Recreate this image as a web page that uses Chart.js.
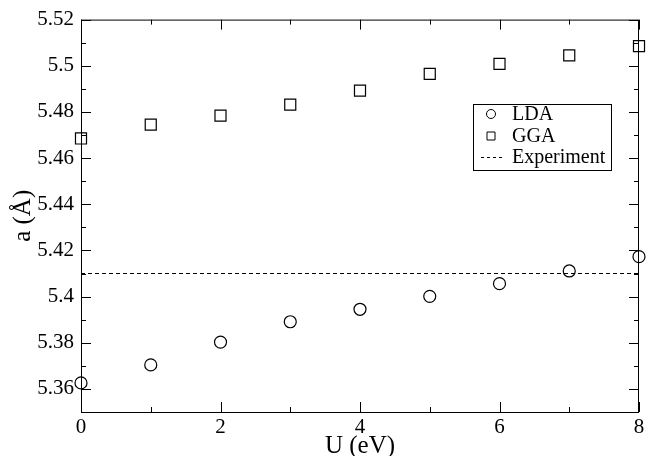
<!DOCTYPE html>
<html lang="en">
<head>
<meta charset="UTF-8">
<title>Lattice constant vs U</title>
<script src="https://cdn.jsdelivr.net/npm/chart.js"></script>
<style>
  body { margin: 0; background: #fff; }
  .wrap { width: 648px; height: 456px; }
</style>
</head>
<body>
<div class="wrap"><canvas id="latticeChart" width="648" height="456"></canvas></div>
<script>
// values
const uValues = [0, 1, 2, 3, 4, 5, 6, 7, 8];
const ldaValues = [5.3626, 5.3704, 5.3803, 5.3891, 5.3945, 5.4001, 5.4056, 5.4111, 5.4173];
const ggaValues = [5.4685, 5.4745, 5.4784, 5.4832, 5.4892, 5.4965, 5.5008, 5.5045, 5.5085];
const experimentValue = 5.41;

const xMajorTicks = [0, 2, 4, 6, 8];
const xMinorTicks = [1, 3, 5, 7];
const yMajorTicks = [5.36, 5.38, 5.40, 5.42, 5.44, 5.46, 5.48, 5.50, 5.52];
const yMinorTicks = [5.35, 5.37, 5.39, 5.41, 5.43, 5.45, 5.47, 5.49, 5.51];

const serif = "'Liberation Serif', 'DejaVu Serif', serif";

function toPoints(xs, ys) {
    return xs.map((x, i) => ({ x: x, y: ys[i] }));
}

// frame + tick marks pointing into the plot on all four sides
const frameTicks = {
    id: 'frameTicks',
    afterDatasetsDraw(chart) {
        const { ctx, chartArea: a, scales } = chart;
        ctx.save();
        ctx.strokeStyle = '#000';
        ctx.lineWidth = 1;
        ctx.strokeRect(a.left + 0.5, a.top + 0.5, a.right - a.left - 1, a.bottom - a.top);
        ctx.beginPath();
        const xTick = (v, len) => {
            const px = Math.round(scales.x.getPixelForValue(v)) + 0.5;
            ctx.moveTo(px, a.bottom); ctx.lineTo(px, a.bottom - len);
            ctx.moveTo(px, a.top); ctx.lineTo(px, a.top + len);
        };
        const yTick = (v, len) => {
            const py = Math.round(scales.y.getPixelForValue(v)) + 0.5;
            ctx.moveTo(a.left, py); ctx.lineTo(a.left + len, py);
            ctx.moveTo(a.right, py); ctx.lineTo(a.right - len, py);
        };
        xMajorTicks.forEach(v => xTick(v, 10));
        xMinorTicks.forEach(v => xTick(v, 5));
        yMajorTicks.forEach(v => yTick(v, 10));
        yMinorTicks.forEach(v => yTick(v, 5));
        ctx.stroke();
        ctx.restore();
    }
};

// boxed legend inside the plot
const boxLegend = {
    id: 'boxLegend',
    afterDraw(chart) {
        const ctx = chart.ctx;
        const box = { x: 473.5, y: 104.5, w: 138, h: 66 };
        const rows = [114, 136, 157];
        ctx.save();
        ctx.fillStyle = '#fff';
        ctx.fillRect(box.x, box.y, box.w, box.h);
        ctx.strokeStyle = '#000';
        ctx.lineWidth = 1;
        ctx.strokeRect(box.x, box.y, box.w, box.h);
        ctx.font = '20px ' + serif;
        ctx.fillStyle = '#000';
        ctx.textBaseline = 'middle';
        chart.data.datasets.forEach((ds, i) => {
            const y = rows[i];
            ctx.beginPath();
            if (ds.pointStyle === 'circle') {
                ctx.arc(491, y, 4.5, 0, Math.PI * 2);
            } else if (ds.pointStyle === 'rect') {
                ctx.rect(487, y - 4, 8, 8);
            } else {
                ctx.setLineDash([3, 3]);
                ctx.moveTo(481, y + 0.5); ctx.lineTo(502, y + 0.5);
            }
            ctx.stroke();
            ctx.setLineDash([]);
            ctx.fillText(ds.label, 512, y + 1);
        });
        ctx.restore();
    }
};

const ctx = document.getElementById('latticeChart').getContext('2d');
new Chart(ctx, {
    type: 'scatter',
    data: {
        datasets: [
            {
                label: 'LDA',
                data: toPoints(uValues, ldaValues),
                pointStyle: 'circle',
                pointRadius: 6,
                borderColor: '#000',
                backgroundColor: 'rgba(0,0,0,0)',
                borderWidth: 1.2,
                clip: false
            },
            {
                label: 'GGA',
                data: toPoints(uValues, ggaValues),
                pointStyle: 'rect',
                pointRadius: 7.8,
                borderColor: '#000',
                backgroundColor: 'rgba(0,0,0,0)',
                borderWidth: 1.2,
                clip: false
            },
            {
                label: 'Experiment',
                type: 'line',
                data: [
                    { x: uValues[0], y: experimentValue },
                    { x: uValues[uValues.length - 1], y: experimentValue }
                ],
                pointStyle: false,
                pointRadius: 0,
                borderColor: '#000',
                borderWidth: 1,
                borderDash: [4, 3],
                fill: false
            }
        ]
    },
    options: {
        responsive: false,
        devicePixelRatio: 1,
        animation: false,
        layout: { padding: { left: 0, right: 7, top: 17, bottom: 0 } },
        plugins: {
            legend: { display: false },
            tooltip: { enabled: false }
        },
        scales: {
            x: {
                type: 'linear',
                min: 0,
                max: 8,
                afterBuildTicks: s => { s.ticks = xMajorTicks.map(v => ({ value: v })); },
                afterFit: s => { s.height = 44; },
                grid: { display: false, drawTicks: false },
                border: { display: false },
                ticks: {
                    color: '#000',
                    padding: 3,
                    maxRotation: 0,
                    font: { family: serif, size: 21 }
                },
                title: {
                    display: true,
                    text: 'U (eV)',
                    color: '#000',
                    padding: 0,
                    font: { family: serif, size: 25, lineHeight: 0.8 }
                }
            },
            y: {
                type: 'linear',
                min: 5.35,
                max: 5.52,
                afterBuildTicks: s => { s.ticks = yMajorTicks.map(v => ({ value: v })); },
                afterFit: s => { s.width = 81; },
                grid: { display: false, drawTicks: false },
                border: { display: false },
                ticks: {
                    color: '#000',
                    padding: 7,
                    font: { family: serif, size: 21 },
                    callback: v => String(Math.round(v * 100) / 100)
                },
                title: {
                    display: true,
                    text: 'a (Å)',
                    color: '#000',
                    padding: { top: 8, bottom: 8 },
                    font: { family: serif, size: 25 }
                }
            }
        }
    },
    plugins: [frameTicks, boxLegend]
});
</script>
</body>
</html>
